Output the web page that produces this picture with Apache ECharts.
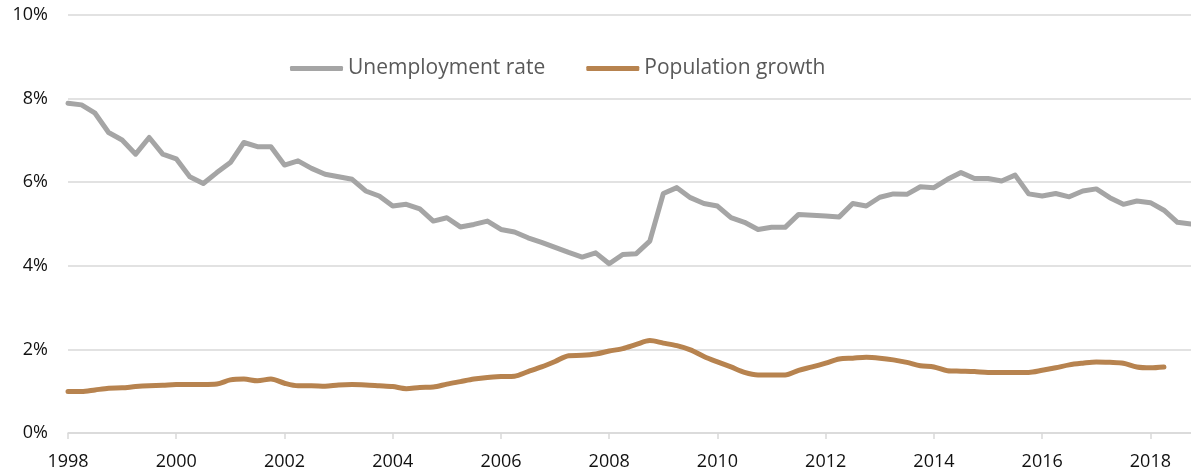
<!DOCTYPE html>
<html>
<head>
<meta charset="utf-8">
<script src="https://cdn.jsdelivr.net/npm/echarts@6/dist/echarts.min.js"></script>
<style>
  html, body { margin: 0; padding: 0; background: #fff; }
  #main { width: 1191px; height: 474px; }
</style>
</head>
<body>
<div id="main"></div>
<script>
// quarters, 1998 Q1 .. 2018 Q4
var quarters = [
  '1998Q1','1998Q2','1998Q3','1998Q4','1999Q1','1999Q2','1999Q3','1999Q4',
  '2000Q1','2000Q2','2000Q3','2000Q4','2001Q1','2001Q2','2001Q3','2001Q4',
  '2002Q1','2002Q2','2002Q3','2002Q4','2003Q1','2003Q2','2003Q3','2003Q4',
  '2004Q1','2004Q2','2004Q3','2004Q4','2005Q1','2005Q2','2005Q3','2005Q4',
  '2006Q1','2006Q2','2006Q3','2006Q4','2007Q1','2007Q2','2007Q3','2007Q4',
  '2008Q1','2008Q2','2008Q3','2008Q4','2009Q1','2009Q2','2009Q3','2009Q4',
  '2010Q1','2010Q2','2010Q3','2010Q4','2011Q1','2011Q2','2011Q3','2011Q4',
  '2012Q1','2012Q2','2012Q3','2012Q4','2013Q1','2013Q2','2013Q3','2013Q4',
  '2014Q1','2014Q2','2014Q3','2014Q4','2015Q1','2015Q2','2015Q3','2015Q4',
  '2016Q1','2016Q2','2016Q3','2016Q4','2017Q1','2017Q2','2017Q3','2017Q4',
  '2018Q1','2018Q2','2018Q3','2018Q4'
];

// unemployment rate, %
var unemployment = [
  7.89, 7.85, 7.65, 7.19, 7.01, 6.67, 7.07, 6.67, 6.56, 6.13,
  5.97, 6.23, 6.47, 6.95, 6.85, 6.85, 6.41, 6.51, 6.33, 6.19,
  6.13, 6.07, 5.79, 5.67, 5.43, 5.47, 5.36, 5.07, 5.15, 4.93,
  4.99, 5.07, 4.87, 4.81, 4.67, 4.56, 4.44, 4.32, 4.21, 4.31,
  4.05, 4.27, 4.29, 4.59, 5.73, 5.87, 5.63, 5.49, 5.43, 5.15,
  5.04, 4.87, 4.92, 4.92, 5.23, 5.21, 5.19, 5.17, 5.49, 5.43,
  5.64, 5.72, 5.71, 5.89, 5.87, 6.07, 6.23, 6.09, 6.09, 6.03,
  6.17, 5.72, 5.67, 5.73, 5.65, 5.79, 5.84, 5.63, 5.47, 5.55,
  5.51, 5.33, 5.04, 5.00
];

// population growth, %
var population = [
  0.99, 0.99, 1.03, 1.07, 1.08, 1.11, 1.13, 1.14, 1.16, 1.16,
  1.16, 1.17, 1.27, 1.29, 1.25, 1.29, 1.19, 1.13, 1.13, 1.12,
  1.15, 1.16, 1.15, 1.13, 1.11, 1.06, 1.09, 1.10, 1.17, 1.23,
  1.29, 1.33, 1.35, 1.36, 1.47, 1.58, 1.71, 1.85, 1.86, 1.89,
  1.96, 2.02, 2.12, 2.21, 2.15, 2.09, 1.99, 1.83, 1.70, 1.58,
  1.45, 1.39, 1.39, 1.39, 1.50, 1.58, 1.67, 1.77, 1.79, 1.81,
  1.79, 1.75, 1.69, 1.61, 1.58, 1.49, 1.48, 1.47, 1.45, 1.45,
  1.45, 1.45, 1.50, 1.56, 1.63, 1.67, 1.70, 1.69, 1.67, 1.58,
  1.56, 1.58, null, null
];

var font = 'Open Sans';
var myChart = echarts.init(document.getElementById('main'));

var option = {
  animation: false,
  textStyle: { fontFamily: font },
  legend: {
    left: 285,
    top: 53,
    icon: 'roundRect',
    itemWidth: 53,
    itemHeight: 5,
    itemGap: 41,
    textStyle: { fontFamily: font, fontSize: 21, color: '#595959' },
    data: ['Unemployment rate', 'Population growth']
  },
  grid: {
    left: 68,
    top: 15,
    bottom: 41,
    width: 1127
  },
  xAxis: {
    type: 'category',
    boundaryGap: false,
    data: quarters,
    axisLine: { lineStyle: { color: '#D9D9D9', width: 1.5 } },
    axisTick: {
      show: true,
      interval: 7,
      length: 6,
      lineStyle: { color: '#D9D9D9', width: 1.5 }
    },
    axisLabel: {
      interval: 7,
      margin: 20,
      fontFamily: font,
      fontSize: 18,
      color: '#111',
      formatter: function (v) { return v.slice(0, 4); }
    },
    splitLine: { show: false }
  },
  yAxis: {
    type: 'value',
    min: 0,
    max: 10,
    interval: 2,
    axisLine: { show: false },
    axisTick: { show: false },
    axisLabel: {
      margin: 20,
      fontFamily: font,
      fontSize: 18,
      color: '#111',
      formatter: '{value}%'
    },
    splitLine: { lineStyle: { color: '#D9D9D9', width: 1.5 } }
  },
  series: [
    {
      name: 'Unemployment rate',
      type: 'line',
      data: unemployment,
      symbol: 'none',
      itemStyle: { color: '#A5A5A5' },
      lineStyle: { color: '#A5A5A5', width: 5, cap: 'round', join: 'round' }
    },
    {
      name: 'Population growth',
      type: 'line',
      data: population,
      symbol: 'none',
      smooth: 0.3,
      itemStyle: { color: '#B7834F' },
      lineStyle: { color: '#B7834F', width: 5, cap: 'round', join: 'round' }
    }
  ]
};

myChart.setOption(option);
</script>
</body>
</html>
